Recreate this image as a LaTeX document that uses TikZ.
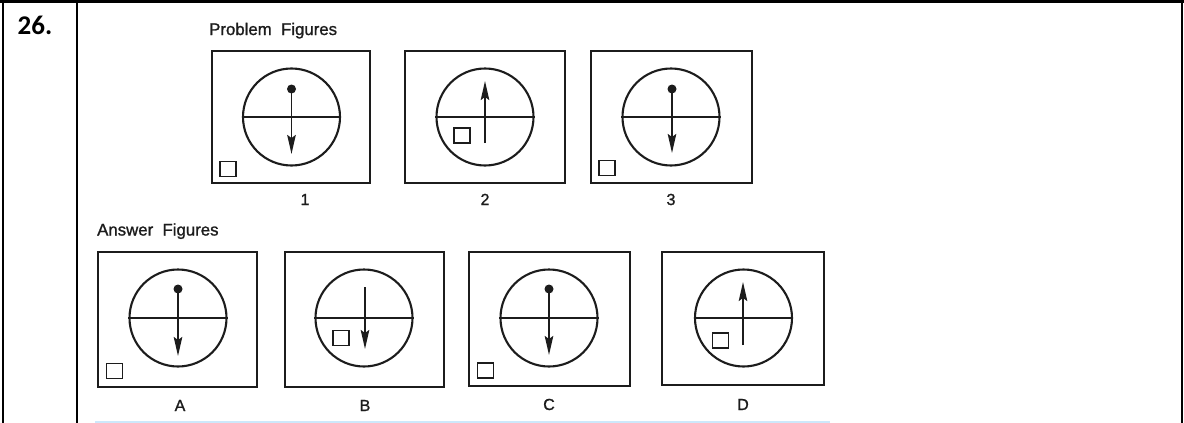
\documentclass[tikz,border=0pt]{standalone}
\usepackage{fontspec}
\setmainfont{Liberation Sans}
\newfontfamily\numfont{Carlito}
\newfontfamily\scanfont{Liberation Sans}[BoldFont={Liberation Sans}, BoldFeatures={FakeBold=1.2}]
\usetikzlibrary{arrows.meta}
\definecolor{ink}{RGB}{28,28,28}
\definecolor{paleblue}{RGB}{205,232,251}
\tikzset{
  tbl/.style={line width=2.8pt, black},
  figbox/.style={draw=ink, line width=2.2pt, rectangle, inner sep=0pt, minimum width=159pt, minimum height=133pt},
  ring/.style={draw=ink, line width=2.1pt, circle, inner sep=0pt, minimum size=97pt},
  sq/.style={draw=ink, line width=1.7pt, rectangle, inner sep=0pt, minimum width=16pt, minimum height=15pt},
  blob/.style={fill=ink, circle, inner sep=0pt, minimum size=9pt},
  hline/.style={draw=ink, line width=1.9pt},
  arr/.style={draw=ink, line width=1.9pt, -{Stealth[length=19pt, width=8.5pt, inset=3pt]}},
  lbl/.style={font=\scanfont\bfseries\fontsize{16}{18}\selectfont, text=ink, anchor=base, inner sep=0pt},
  head/.style={font=\scanfont\bfseries\fontsize{16.8}{19}\selectfont, text=ink, anchor=base west, inner sep=0pt}
}
\begin{document}
\begin{tikzpicture}[x=1pt, y=-1pt]
\useasboundingbox (0,0) rectangle (1184,423);
% table frame
\coordinate (tl) at (0,1.4);
\coordinate (tr) at (1184,1.4);
\draw[tbl] (tl) -- (tr);
\coordinate (l0) at (3,0); \coordinate (l1) at (3,423);
\draw[tbl] (l0) -- (l1);
\coordinate (m0) at (77,0); \coordinate (m1) at (77,423);
\draw[tbl] (m0) -- (m1);
\coordinate (r0) at (1182,0); \coordinate (r1) at (1182,423);
\draw[tbl] (r0) -- (r1);
\coordinate (bl0) at (95,421.8); \coordinate (bl1) at (830,421.8);
\draw[paleblue, line width=2pt] (bl0) -- (bl1);

\node[font=\numfont\bfseries\fontsize{27}{30}\selectfont, anchor=base west, inner sep=0pt] (num) at (17.5,34.5) {26.};
\node[head] (ph) at (209,35) {Problem\ \ Figures};
\node[head] (ah) at (97,235.5) {Answer\ \ Figures};

% ---------- Problem figure 1 ----------
\node[figbox, minimum width=158pt, minimum height=132pt] (b1) at (291,117) {};
\node[ring] (c1) at (291.5,117) {};
\draw[hline] (c1.west) -- (c1.east);
\node[blob] (d1) at (291.5,89) {};
\coordinate (t1) at (291.5,154);
\draw[arr] (d1.center) -- (t1);
\node[sq] (s1) at (228,169) {};
\node[lbl] (n1) at (305,205) {1};

% ---------- Problem figure 2 ----------
\node[figbox, minimum width=160pt, minimum height=132pt] (b2) at (485,117) {};
\node[ring] (c2) at (485,117) {};
\draw[hline] (c2.west) -- (c2.east);
\coordinate (e2) at (485,143);
\coordinate (t2) at (485,81);
\draw[arr] (e2) -- (t2);
\node[sq] (s2) at (462,135.5) {};
\node[lbl] (n2) at (485,205) {2};

% ---------- Problem figure 3 ----------
\node[figbox, minimum width=161pt, minimum height=132pt] (b3) at (671.5,117) {};
\node[ring] (c3) at (671,117) {};
\draw[hline] (c3.west) -- (c3.east);
\node[blob] (d3) at (672,89) {};
\coordinate (t3) at (672,153);
\draw[arr] (d3.center) -- (t3);
\node[sq] (s3) at (607,168) {};
\node[lbl] (n3) at (671,205) {3};

% ---------- Answer A ----------
\node[figbox, minimum width=159pt, minimum height=135pt] (bA) at (177.5,319.5) {};
\node[ring] (cA) at (178,318) {};
\draw[hline] (cA.west) -- (cA.east);
\node[blob] (dA) at (178,289) {};
\coordinate (tA) at (178,356);
\draw[arr] (dA.center) -- (tA);
\node[sq] (sA) at (114.5,371) {};
\node[lbl] (nA) at (180,411) {A};

% ---------- Answer B ----------
\node[figbox, minimum width=159pt, minimum height=135pt] (bB) at (364.5,319.5) {};
\node[ring] (cB) at (364,318) {};
\draw[hline] (cB.west) -- (cB.east);
\coordinate (eB) at (365,287);
\coordinate (tB) at (365,349);
\draw[arr] (eB) -- (tB);
\node[sq] (sB) at (341,338) {};
\node[lbl] (nB) at (365,411) {B};

% ---------- Answer C ----------
\node[figbox, minimum width=161pt, minimum height=134pt] (bC) at (549.5,319) {};
\node[ring] (cC) at (549,318) {};
\draw[hline] (cC.west) -- (cC.east);
\node[blob] (dC) at (549,289) {};
\coordinate (tC) at (549,355);
\draw[arr] (dC.center) -- (tC);
\node[sq] (sC) at (485.5,370.5) {};
\node[lbl] (nC) at (549,410) {C};

% ---------- Answer D ----------
\node[figbox, minimum width=162pt, minimum height=133pt] (bD) at (743,318.5) {};
\node[ring] (cD) at (743.5,318) {};
\draw[hline] (cD.west) -- (cD.east);
\coordinate (eD) at (743,345);
\coordinate (tD) at (743,282);
\draw[arr] (eD) -- (tD);
\node[sq] (sD) at (720.5,340.5) {};
\node[lbl] (nD) at (743,410) {D};
\end{tikzpicture}
\end{document}
